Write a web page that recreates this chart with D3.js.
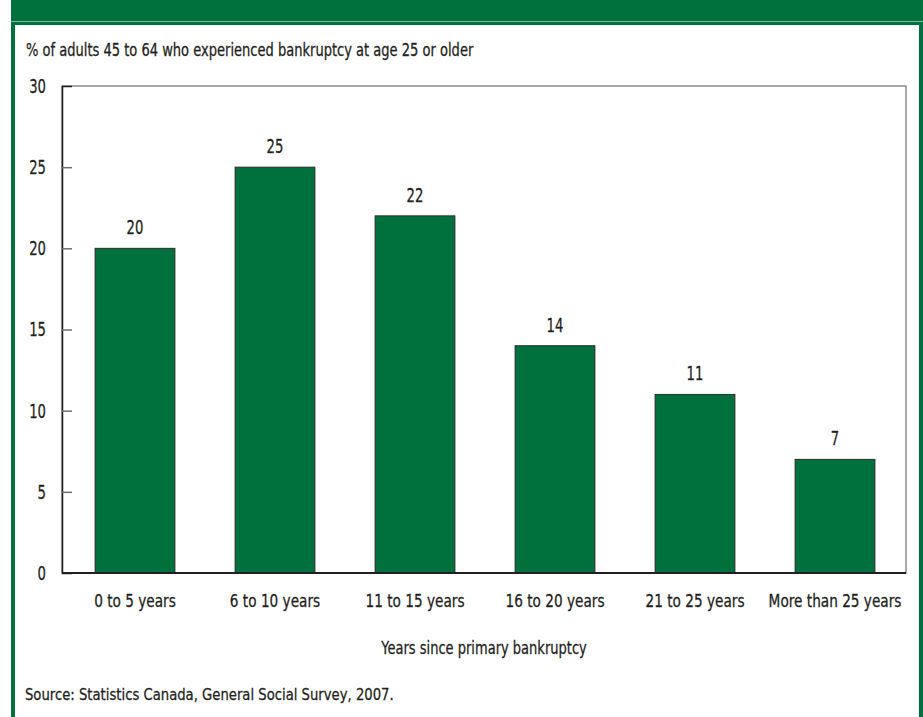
<!DOCTYPE html>
<html>
<head>
<meta charset="utf-8">
<script src="https://cdn.jsdelivr.net/npm/d3@7"></script>
<style>
  html, body { margin: 0; padding: 0; background: #ffffff; }
  svg { display: block; }
  text { font-family: "DejaVu Sans", sans-serif; fill: #231f20; stroke: #231f20; stroke-width: 0.3px; }
</style>
</head>
<body>
<svg id="chart" width="923" height="717"></svg>
<script>
// Share of adults 45 to 64 who went bankrupt at 25 or older, by time since the bankruptcy
const categories = ["0 to 5 years", "6 to 10 years", "11 to 15 years", "16 to 20 years", "21 to 25 years", "More than 25 years"];
const values = [20, 25, 22, 14, 11, 7];
const yTicks = [0, 5, 10, 15, 20, 25, 30];
const unitLabel = "% of adults 45 to 64 who experienced bankruptcy at age 25 or older";
const xTitle = "Years since primary bankruptcy";
const sourceNote = "Source: Statistics Canada, General Social Survey, 2007.";

const green = "#00703c";
const svg = d3.select("#chart");

// Squeeze text horizontally around its anchor to get a condensed face out of DejaVu Sans
function condense(sel, factor) {
  sel.each(function () {
    const ax = +(this.getAttribute("x") || 0);
    d3.select(this).attr("transform", `translate(${ax},0) scale(${factor},1) translate(${-ax},0)`);
  });
}

// Panel frame: green surround with a white inner card
svg.append("rect").attr("x", 11).attr("y", 0).attr("width", 912).attr("height", 717).attr("fill", green);
svg.append("line").attr("x1", 11).attr("x2", 923).attr("y1", 21.5).attr("y2", 21.5)
  .attr("stroke", "#7fb79a").attr("stroke-width", 1);
svg.append("rect").attr("x", 15).attr("y", 25).attr("width", 904).attr("height", 692).attr("fill", "#ffffff");

const plot = { left: 62, right: 906, top: 86, bottom: 573 };

const x = d3.scaleBand().domain(categories).range([65, 905]).paddingInner(0.43).paddingOuter(0.215);
const y = d3.scaleLinear().domain([0, 30]).range([plot.bottom, plot.top]);

svg.append("text").attr("x", 26).attr("y", 56).attr("font-size", 17).text(unitLabel)
  .call(condense, 0.768);

// Plot frame
svg.append("rect").attr("x", plot.left).attr("y", plot.top)
  .attr("width", plot.right - plot.left).attr("height", plot.bottom - plot.top)
  .attr("fill", "none").attr("stroke", "#6d6e70").attr("stroke-width", 1.2);

// Bars
svg.append("g").selectAll("rect").data(values).join("rect")
  .attr("x", (d, i) => x(categories[i]))
  .attr("y", d => y(d))
  .attr("width", x.bandwidth())
  .attr("height", d => y(0) - y(d))
  .attr("fill", green).attr("stroke", "#2b2b2b").attr("stroke-width", 1);

// Value labels
svg.append("g").selectAll("text").data(values).join("text")
  .attr("x", (d, i) => x(categories[i]) + x.bandwidth() / 2)
  .attr("y", d => y(d) - 14)
  .attr("text-anchor", "middle").attr("font-size", 20)
  .text(d => d)
  .call(condense, 0.66);

// Y axis
const yAxis = d3.axisLeft(y).tickValues(yTicks).tickSize(-10).tickPadding(16).tickFormat(d3.format("d"));
const gy = svg.append("g").attr("transform", `translate(${plot.left},0)`).call(yAxis);
gy.attr("font-family", null).attr("font-size", null);
gy.select(".domain").attr("stroke", "#231f20").attr("stroke-width", 1.5);
gy.selectAll(".tick line").attr("stroke", "#6d6e70").attr("stroke-width", 1.5)
  .filter(d => d === 0 || d === 30).remove();
gy.selectAll(".tick text").attr("font-size", 20).attr("fill", "#231f20")
  .call(condense, 0.66);

// X axis (labels only)
const xAxis = d3.axisBottom(x).tickSize(0).tickPadding(22);
const gx = svg.append("g").attr("transform", `translate(0,${plot.bottom})`).call(xAxis);
gx.attr("font-family", null).attr("font-size", null);
gx.select(".domain").attr("d", `M${plot.left},0H${plot.right}`).attr("stroke", "#231f20").attr("stroke-width", 2);
gx.selectAll(".tick text").attr("font-size", 17.5).attr("fill", "#231f20")
  .call(condense, 0.78);

svg.append("text").attr("x", (plot.left + plot.right) / 2).attr("y", 654)
  .attr("text-anchor", "middle").attr("font-size", 17.5).text(xTitle)
  .call(condense, 0.745);

svg.append("text").attr("x", 25).attr("y", 700).attr("font-size", 16.5).text(sourceNote)
  .call(condense, 0.8);
</script>
</body>
</html>
